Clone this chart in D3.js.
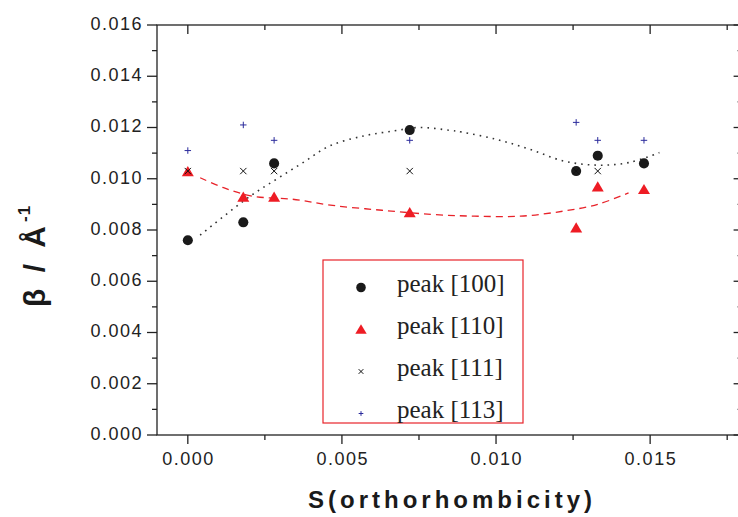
<!DOCTYPE html>
<html><head><meta charset="utf-8">
<script src="https://cdn.jsdelivr.net/npm/d3@7"></script>
<style>html,body{margin:0;padding:0;background:#fff;}svg{display:block;}</style>
</head><body>
<script>
// ---- data ----
const sValues  = [0, 0.0018, 0.0028, 0.0072, 0.0126, 0.0133, 0.0148];
const peak100  = [0.0076, 0.0083, 0.0106, 0.0119, 0.0103, 0.0109, 0.0106];
const peak110  = [0.0103, 0.0093, 0.0093, 0.0087, 0.0081, 0.0097, 0.0096];
const peak111  = [0.0103, 0.0103, 0.0103, 0.0103, 0.0103, 0.0103, null];
const peak113  = [0.0111, 0.0121, 0.0115, 0.0115, 0.0122, 0.0115, 0.0115];
// fitted curves
const fit100X = [0.0004, 0.0020, 0.0029, 0.00375, 0.0046, 0.0057, 0.0067, 0.0075, 0.0085, 0.0089, 0.0100, 0.0111, 0.0122, 0.0133, 0.0143, 0.0153];
const fit100Y = [0.0078, 0.0093, 0.0100, 0.01064, 0.01128, 0.01167, 0.01187, 0.0120, 0.01189, 0.01182, 0.01154, 0.01115, 0.01069, 0.01053, 0.01063, 0.01102];
const fit110X = [0.0004, 0.00116, 0.0021, 0.0034, 0.0047, 0.0063, 0.0079, 0.0093, 0.0108, 0.0122, 0.0133, 0.0143];
const fit110Y = [0.01004, 0.00965, 0.00932, 0.0092, 0.00896, 0.00877, 0.00861, 0.00854, 0.00854, 0.00874, 0.0090, 0.00945];
const xTicks = [0, 0.005, 0.010, 0.015];
const xMinor = [0.0025, 0.0075, 0.0125, 0.0175];
const yTicks = [0, 0.002, 0.004, 0.006, 0.008, 0.010, 0.012, 0.014, 0.016];
const yMinor = [0.001, 0.003, 0.005, 0.007, 0.009, 0.011, 0.013, 0.015];
const legendLabels = ["peak [100]", "peak [110]", "peak [111]", "peak [113]"];
const xTitle = "S(orthorhombicity)";

const W = 738, H = 517;
const L = 157, R = 742.6, T = 25, B = 435;
const x = d3.scaleLinear().domain([-0.001, 0.018]).range([L, R]);
const y = d3.scaleLinear().domain([0, 0.016]).range([B, T]);

const svg = d3.select("body").append("svg").attr("width", W).attr("height", H);
const axisColor = "#222";

// curves
const line = d3.line().x(d => x(d[0])).y(d => y(d[1])).curve(d3.curveCatmullRom);
svg.append("path").datum(fit110X.map((v, i) => [v, fit110Y[i]]))
  .attr("d", line).attr("fill", "none").attr("stroke", "#e8232a")
  .attr("stroke-width", 1.3).attr("stroke-dasharray", "7,5");
svg.append("path").datum(fit100X.map((v, i) => [v, fit100Y[i]]))
  .attr("d", line).attr("fill", "none").attr("stroke", "#333")
  .attr("stroke-width", 1.6).attr("stroke-dasharray", "1.6,5").attr("stroke-linecap", "butt");

// symbol types
const xType = {draw(ctx, size) { const r = Math.sqrt(size) / 2; ctx.moveTo(-r, -r); ctx.lineTo(r, r); ctx.moveTo(r, -r); ctx.lineTo(-r, r); }};
const plusType = {draw(ctx, size) { const r = Math.sqrt(size) / 2; ctx.moveTo(-r, 0); ctx.lineTo(r, 0); ctx.moveTo(0, -r); ctx.lineTo(0, r); }};
const triType = {draw(ctx, size) { const w = Math.sqrt(size); const h = w * 0.85; ctx.moveTo(0, -h / 2); ctx.lineTo(w / 2, h / 2); ctx.lineTo(-w / 2, h / 2); ctx.closePath(); }};

const series = [
  {vals: peak100, type: d3.symbolCircle, size: 80, fill: "#1a1a1a", stroke: "none", lsize: 72},
  {vals: peak110, type: triType, size: 144, fill: "#ee1c24", stroke: "none", lsize: 130},
  {vals: peak111, type: xType, size: 40, fill: "none", stroke: "#111", lsize: 22},
  {vals: peak113, type: plusType, size: 42, fill: "none", stroke: "#2b2b9c", lsize: 22}
];

series.forEach(s => {
  svg.append("g").selectAll("path")
    .data(sValues.map((v, i) => [v, s.vals[i]]).filter(d => d[1] != null))
    .join("path")
    .attr("transform", d => `translate(${x(d[0])},${y(d[1])})`)
    .attr("d", d3.symbol(s.type, s.size))
    .attr("fill", s.fill).attr("stroke", s.stroke).attr("stroke-width", 1);
});

// frame
svg.append("rect").attr("x", L).attr("y", T).attr("width", R - L).attr("height", B - T)
  .attr("fill", "none").attr("stroke", axisColor).attr("stroke-width", 1.3);

const tg = svg.append("g").attr("stroke", axisColor).attr("stroke-width", 1.3);
xTicks.forEach(v => tg.append("line").attr("x1", x(v)).attr("x2", x(v)).attr("y1", B).attr("y2", B + 9));
xMinor.forEach(v => tg.append("line").attr("x1", x(v)).attr("x2", x(v)).attr("y1", B).attr("y2", B + 5));
xTicks.forEach(v => tg.append("line").attr("x1", x(v)).attr("x2", x(v)).attr("y1", T).attr("y2", T + 9));
xMinor.forEach(v => tg.append("line").attr("x1", x(v)).attr("x2", x(v)).attr("y1", T).attr("y2", T + 5));
yTicks.forEach(v => tg.append("line").attr("x1", L - 10).attr("x2", L).attr("y1", y(v)).attr("y2", y(v)));
yMinor.forEach(v => tg.append("line").attr("x1", L - 5).attr("x2", L).attr("y1", y(v)).attr("y2", y(v)));
yTicks.forEach(v => tg.append("line").attr("x1", R - 9).attr("x2", R).attr("y1", y(v)).attr("y2", y(v)));
yMinor.forEach(v => tg.append("line").attr("x1", R - 5).attr("x2", R).attr("y1", y(v)).attr("y2", y(v)));

const fmt = d3.format(".3f");
const tickFont = "'Liberation Sans', Arial, sans-serif";
svg.append("g").selectAll("text").data(xTicks).join("text")
  .attr("x", d => x(d) + 0.75).attr("y", 465).attr("text-anchor", "middle")
  .attr("font-family", tickFont).attr("font-size", 18).attr("letter-spacing", 1.5)
  .attr("fill", "#222").text(d => fmt(d));
svg.append("g").selectAll("text").data(yTicks).join("text")
  .attr("x", 143).attr("y", d => y(d) - 1.5).attr("text-anchor", "end").attr("dy", "0.35em")
  .attr("font-family", tickFont).attr("font-size", 18).attr("letter-spacing", 1.5)
  .attr("fill", "#222").text(d => fmt(d));

// axis titles
svg.append("text").attr("x", 452).attr("y", 508).attr("text-anchor", "middle")
  .attr("font-family", tickFont).attr("font-weight", "bold").attr("font-size", 24)
  .attr("letter-spacing", 4).attr("fill", "#1a1a1a").text(xTitle);

const yt = svg.append("text").attr("transform", "translate(45,307) rotate(-90)")
  .attr("font-family", tickFont).attr("font-weight", "bold").attr("font-size", 30)
  .attr("letter-spacing", 4).attr("fill", "#1a1a1a");
yt.append("tspan").text("β / Å");
yt.append("tspan").attr("font-size", 17).attr("dy", -15).attr("letter-spacing", 1).text("-1");

// legend
const lg = svg.append("g");
lg.append("rect").attr("x", 323).attr("y", 260).attr("width", 200).attr("height", 163)
  .attr("fill", "#fff").attr("stroke", "#e8232a").attr("stroke-width", 1.2);
const rowY = [287.5, 329, 371.5, 413.5];
series.forEach((s, i) => {
  lg.append("path").attr("transform", `translate(361,${rowY[i]})`)
    .attr("d", d3.symbol(s.type, s.lsize))
    .attr("fill", s.fill).attr("stroke", s.stroke).attr("stroke-width", 1);
  lg.append("text").attr("x", 397).attr("y", rowY[i] + 4.5)
    .attr("font-family", "'Liberation Serif', 'Times New Roman', serif").attr("font-size", 25)
    .attr("fill", "#222").text(legendLabels[i]);
});
</script>
</body></html>
